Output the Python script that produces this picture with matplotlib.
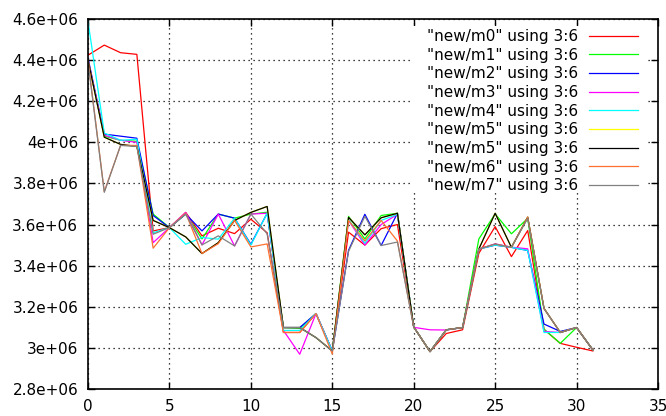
import matplotlib
matplotlib.use("Agg")
import matplotlib.pyplot as plt
from matplotlib.ticker import FuncFormatter, MultipleLocator
from matplotlib.patches import Rectangle

# x = 0..31, values in units of 1e6
xs = list(range(32))

m0 = [4.424, 4.473, 4.436, 4.428, 3.569, 3.585, 3.659, 3.545, 3.582, 3.556, 3.626, 3.560,
      3.075, 3.075, 3.167, 2.985, 3.563, 3.500, 3.580, 3.600, 3.102, 2.982, 3.070, 3.088,
      3.460, 3.590, 3.444, 3.571, 3.090, 3.022, 3.003, 2.985]
m1 = [4.400, 4.030, 4.010, 4.005, 3.651, 3.585, 3.651, 3.530, 3.651, 3.631, 3.651, 3.660,
      3.099, 3.095, 3.167, 2.985, 3.640, 3.530, 3.644, 3.655, 3.102, 2.982, 3.088, 3.099,
      3.530, 3.652, 3.555, 3.630, 3.091, 3.022, 3.099, 2.990]
m2 = [4.410, 4.040, 4.030, 4.020, 3.644, 3.585, 3.651, 3.569, 3.651, 3.631, 3.504, 3.655,
      3.099, 3.099, 3.167, 2.985, 3.475, 3.650, 3.498, 3.655, 3.102, 2.982, 3.088, 3.099,
      3.481, 3.500, 3.489, 3.474, 3.116, 3.080, 3.099, 2.990]
m3 = [4.400, 4.035, 4.010, 4.000, 3.512, 3.585, 3.659, 3.501, 3.651, 3.496, 3.651, 3.655,
      3.085, 2.969, 3.167, 2.985, 3.620, 3.500, 3.600, 3.650, 3.100, 3.088, 3.087, 3.099,
      3.481, 3.506, 3.490, 3.482, 3.080, 3.075, 3.099, 2.990]
m4 = [4.590, 4.045, 4.010, 4.015, 3.560, 3.585, 3.504, 3.537, 3.529, 3.631, 3.500, 3.655,
      3.085, 3.085, 3.167, 2.985, 3.625, 3.509, 3.620, 3.650, 3.102, 2.982, 3.088, 3.099,
      3.481, 3.500, 3.489, 3.474, 3.075, 3.075, 3.099, 2.990]
m5 = [4.400, 4.025, 3.990, 3.980, 3.620, 3.585, 3.540, 3.459, 3.512, 3.620, 3.659, 3.688,
      3.099, 3.099, 3.050, 2.985, 3.635, 3.550, 3.633, 3.655, 3.102, 2.982, 3.088, 3.099,
      3.481, 3.655, 3.489, 3.636, 3.192, 3.075, 3.099, 2.990]
m6 = [4.400, 3.760, 3.985, 3.985, 3.485, 3.585, 3.655, 3.459, 3.507, 3.620, 3.491, 3.506,
      3.075, 3.075, 3.167, 2.970, 3.620, 3.520, 3.620, 3.520, 3.102, 2.982, 3.088, 3.099,
      3.481, 3.505, 3.489, 3.636, 3.192, 3.075, 3.099, 2.990]
m7 = [4.390, 3.757, 3.985, 3.980, 3.553, 3.585, 3.651, 3.501, 3.545, 3.496, 3.651, 3.555,
      3.099, 3.099, 3.050, 2.985, 3.470, 3.640, 3.498, 3.515, 3.102, 2.982, 3.088, 3.099,
      3.481, 3.505, 3.490, 3.630, 3.192, 3.075, 3.099, 2.990]

labels = ['"new/m0" using 3:6', '"new/m1" using 3:6', '"new/m2" using 3:6',
          '"new/m3" using 3:6', '"new/m4" using 3:6', '"new/m5" using 3:6',
          '"new/m5" using 3:6', '"new/m6" using 3:6', '"new/m7" using 3:6']
series = [m0, m1, m2, m3, m4, m5, m5, m6, m7]
colors = ['#ff0000', '#00ff00', '#0000ff', '#ff00ff', '#00ffff', '#ffff00',
          '#000000', '#ff7030', '#808080']

plt.rcParams['font.family'] = 'DejaVu Sans'
plt.rcParams['font.size'] = 11

fig = plt.figure(figsize=(6.66, 4.16), dpi=100)
ax = fig.add_axes([88 / 666, 27 / 416, 570 / 666, 370 / 416])

for vals, lab, col in zip(series, labels, colors):
    ax.plot(xs, [v * 1e6 for v in vals], color=col, lw=0.9, label=lab, zorder=2)

ax.set_xlim(0, 35)
ax.set_ylim(2.8e6, 4.6e6)
ax.xaxis.set_major_locator(MultipleLocator(5))
ax.yaxis.set_major_locator(MultipleLocator(0.2e6))
ax.yaxis.set_major_formatter(FuncFormatter(lambda v, p: '%g' % v))

ax.set_axisbelow(True)
ax.grid(True, color='black', linestyle=(0, (1, 3)), lw=0.9)
ax.tick_params(direction='in', top=True, right=True, length=5, width=1, pad=7, labelsize=11)
for s in ax.spines.values():
    s.set_linewidth(1.2)

# white box behind the key, like gnuplot
ax.add_patch(Rectangle((413 / 570 - 88 / 570, 1 - (192 - 19) / 370), (646 - 413) / 570, (192 - 26) / 370,
                       transform=ax.transAxes, facecolor='white', edgecolor='none', zorder=1))

ax.legend(loc='upper right', bbox_to_anchor=((638 - 88) / 570, 1 - (29 - 19) / 370),
          frameon=False, markerfirst=False, borderpad=0, borderaxespad=0,
          handlelength=3.2, handletextpad=0.7, labelspacing=0.24, fontsize=11)

fig.savefig("out.png", dpi=100)
